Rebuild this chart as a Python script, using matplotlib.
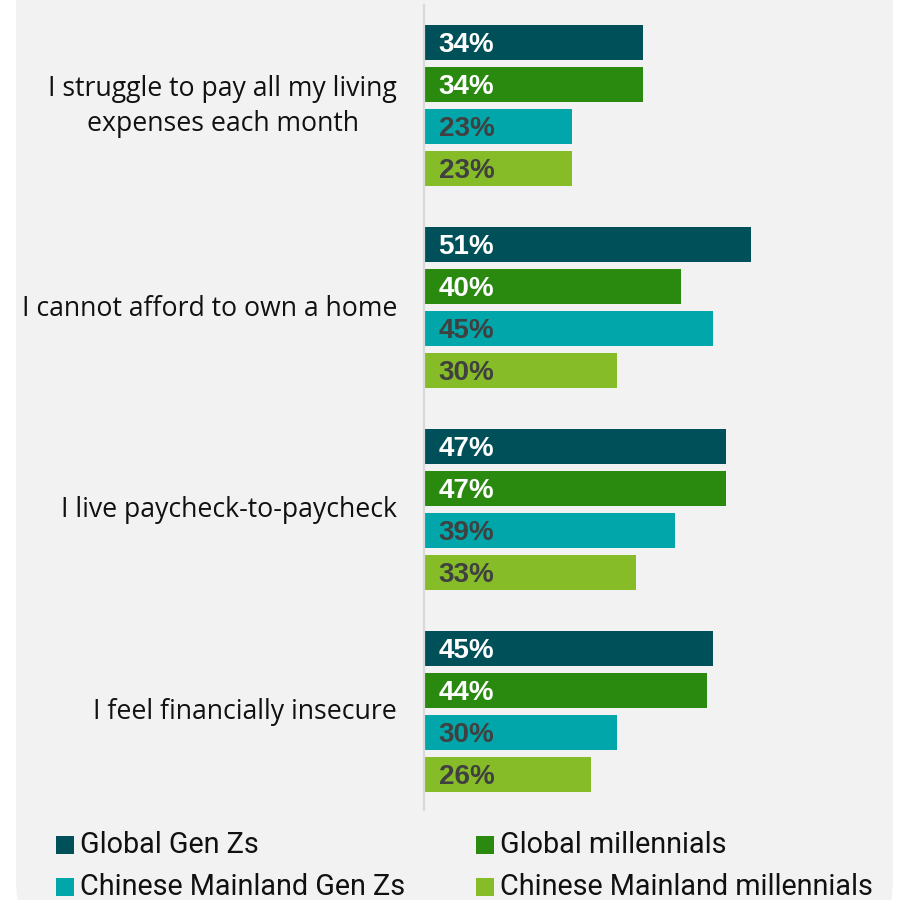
import matplotlib.pyplot as plt
from matplotlib.patches import FancyBboxPatch, Rectangle

categories = [
    "I struggle to pay all my living\nexpenses each month",
    "I cannot afford to own a home",
    "I live paycheck-to-paycheck",
    "I feel financially insecure",
]
series = [
    "Global Gen Zs",
    "Global millennials",
    "Chinese Mainland Gen Zs",
    "Chinese Mainland millennials",
]
global_genz = [34, 51, 47, 45]
global_mill = [34, 40, 47, 44]
china_genz = [23, 45, 39, 30]
china_mill = [23, 30, 33, 26]
values = [global_genz, global_mill, china_genz, china_mill]

colors = ["#00505A", "#2A8A10", "#00A6A9", "#86BC28"]
label_colors = ["white", "white", "#404040", "#404040"]

W, H = 902, 900
fig = plt.figure(figsize=(W / 100, H / 100), dpi=100)
fig.patch.set_facecolor("white")

# rounded grey card behind everything
card = FancyBboxPatch((16 / W, -60 / H), 877 / W, 1.2,
                      boxstyle="round,pad=0,rounding_size=0.09",
                      transform=fig.transFigure, facecolor="#F2F2F2",
                      edgecolor="none", zorder=0)
fig.add_artist(card)

# axes in pixel-like layout: left spine at x=424, from y=5 to y=810
px_per_pct = 6.4
ax_left, ax_right, ax_top, ax_bot = 424, 893, 5, 810
ax = fig.add_axes([ax_left / W, 1 - ax_bot / H,
                   (ax_right - ax_left) / W, (ax_bot - ax_top) / H])
ax.set_facecolor("none")
ax.set_xlim(0, (ax_right - ax_left) / px_per_pct)
ax.set_ylim(ax_bot, ax_top)

group_pitch, bar_pitch, bar_h = 202, 42, 35
first_center = 105.5

for i, (vals, c, lc) in enumerate(zip(values, colors, label_colors)):
    ys = [first_center + g * group_pitch + (i - 1.5) * bar_pitch for g in range(len(categories))]
    ax.barh(ys, vals, height=bar_h, color=c, left=0.15, zorder=2)
    for y, v in zip(ys, vals):
        ax.annotate(f"{v}%", xy=(0, y), xytext=(10.5, -2), textcoords="offset points",
                    va="center", ha="left", fontsize=20, fontweight="bold",
                    family=["Liberation Sans", "DejaVu Sans"], color=lc, zorder=3)

for g, cat in enumerate(categories):
    y = first_center + g * group_pitch
    fig.text(397 / W, 1 - (y + 1) / H, cat, ha="right", va="center", fontsize=19.2,
             family=["Open Sans", "DejaVu Sans"], color="#111111", linespacing=1.37,
             multialignment="center")

ax.set_xticks([])
ax.set_yticks([])
for s in ["top", "right", "bottom"]:
    ax.spines[s].set_visible(False)
ax.spines["left"].set_color("#D9D9D9")
ax.spines["left"].set_linewidth(1.6)

# legend laid out in two columns under the bars
leg_pos = [(56, 845), (476, 845), (56, 887), (476, 887)]
for name, c, (lx, ly) in zip(series, colors, leg_pos):
    fig.add_artist(Rectangle((lx / W, 1 - (ly + 9) / H), 18 / W, 18 / H,
                             transform=fig.transFigure, facecolor=c, edgecolor="none"))
    fig.text((lx + 24) / W, 1 - ly / H, name, ha="left", va="center", fontsize=20.7,
             family=["Roboto", "DejaVu Sans"], color="#111111")

fig.savefig("out.png", dpi=100)
